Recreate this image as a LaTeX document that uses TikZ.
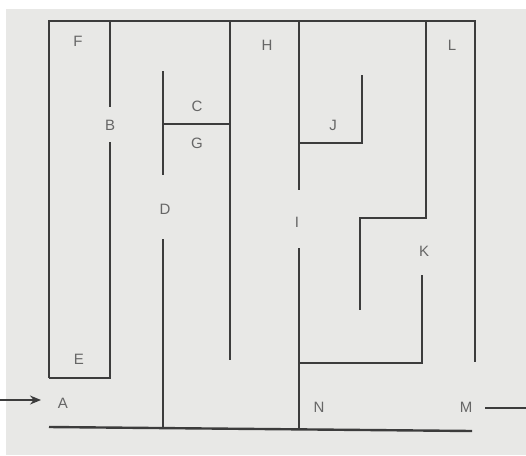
\documentclass[tikz,border=0pt]{standalone}
\usepackage{fontspec}
\setmainfont{Liberation Sans}
\usetikzlibrary{arrows.meta}
\definecolor{paper}{HTML}{E8E8E6}
\definecolor{ink}{HTML}{3C3C3C}
\definecolor{lab}{HTML}{666666}
\tikzset{
  wall/.style={draw=ink, line width=2.4pt, line cap=butt, line join=miter},
  lbl/.style={text=lab, font=\fontsize{15}{17}\selectfont, inner sep=0pt},
}
\begin{document}
\begin{tikzpicture}[x=1pt,y=-1pt]
\useasboundingbox (0,0) rectangle (526,455);
\fill[white] (0,0) rectangle (526,455);
\fill[paper] (6,9) rectangle (526,455);
% outer frame
\draw[wall] (49,378) -- (49,21) -- (475,21) -- (475,362);
\draw[wall] (49,427) -- (472,431);
% E box / B wall
\draw[wall] (110,21) -- (110,107);
\draw[wall] (110,142) -- (110,378) -- (49,378);
% D wall and C/G
\draw[wall] (163,71) -- (163,175);
\draw[wall] (163,124) -- (230,124);
\draw[wall] (163,239) -- (163,428);
% H wall
\draw[wall] (230,21) -- (230,360);
% I wall and J
\draw[wall] (299,21) -- (299,190);
\draw[wall] (299,143) -- (362,143) -- (362,75);
\draw[wall] (299,248) -- (299,430);
% K
\draw[wall] (299,363) -- (422,363) -- (422,275);
% L wall
\draw[wall] (426,21) -- (426,218) -- (360,218) -- (360,310);
% labels
\node[lbl] (F) at (78,41) {F};
\node[lbl] (B) at (110,125) {B};
\node[lbl] (C) at (197,106) {C};
\node[lbl] (G) at (197,143) {G};
\node[lbl] (D) at (165,209) {D};
\node[lbl] (H) at (267,45) {H};
\node[lbl] (J) at (333,125) {J};
\node[lbl] (L) at (452,45) {L};
\node[lbl] (I) at (297,222) {I};
\node[lbl] (K) at (424,251) {K};
\node[lbl] (E) at (79,359) {E};
\node[lbl] (A) at (63,403) {A};
\node[lbl] (N) at (319,407) {N};
\node[lbl] (M) at (466,407) {M};
% entry arrow and exit line
\coordinate (in0) at (0,400);
\coordinate (in1) at (41,400);
\draw[ink, line width=1.5pt, -{Stealth[length=11pt,width=9pt]}] (in0) -- (in1);
\coordinate (out0) at (485,408);
\coordinate (out1) at (526,408);
\draw[ink, line width=1.5pt] (out0) -- (out1);
\end{tikzpicture}
\end{document}
